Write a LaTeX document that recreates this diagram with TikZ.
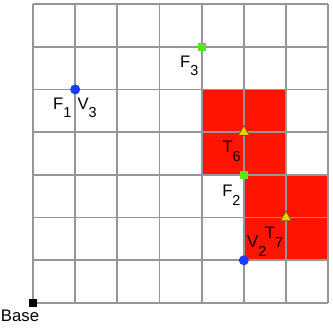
\documentclass[tikz,border=0pt]{standalone}
\usepackage{fontspec}
\setmainfont{Liberation Sans}
\usepackage{tikz}
\usetikzlibrary{positioning, shapes.geometric}
\definecolor{cellred}{RGB}{255,20,0}
\definecolor{gridgray}{RGB}{150,150,150}
\definecolor{ptblue}{RGB}{30,60,255}
\definecolor{ptgreen}{RGB}{90,230,20}
\definecolor{ptyellow}{RGB}{255,200,0}
\definecolor{ptbrown}{RGB}{110,80,0}
\newcommand{\ptname}[2]{#1\raisebox{-4.9pt}{\fontsize{8.2}{9}\selectfont #2}}

\begin{document}
\begin{tikzpicture}[
  x=0.843cm, y=0.854cm,
  gridline/.style={draw=gridgray, line width=1pt},
  vpt/.style={circle, fill=ptblue, inner sep=0, minimum size=0.2cm},
  fpt/.style={rectangle, fill=ptgreen, inner sep=0, minimum size=0.16cm},
  tpt/.style={regular polygon, regular polygon sides=3, fill=ptyellow,
              draw=ptbrown, line width=0.4pt, inner sep=0, minimum size=0.26cm},
  bpt/.style={rectangle, fill=black, inner sep=0, minimum size=0.16cm},
  lbl/.style={inner sep=0, font=\fontsize{9.5}{11}\selectfont}
]
  \useasboundingbox (-0.783,-0.749) rectangle (7.095,7.094);

  \fill[cellred] (4,3) rectangle (6,5);
  \fill[cellred] (5,1) rectangle (7,3);
  \foreach \i in {0,...,7} {
    \draw[gridline] (\i,0) -- (\i,7);
    \draw[gridline] (0,\i) -- (7,\i);
  }

  \node[bpt] (base) at (0,0) {};
  \node[vpt] (v3) at (1,5) {};
  \node[fpt] (f3) at (4,6) {};
  \node[tpt] (t6) at (5,4) {};
  \node[fpt] (f2) at (5,3) {};
  \node[tpt] (t7) at (6,2) {};
  \node[vpt] (v2) at (5,1) {};

  \node[lbl, below=0.14cm of base.center, xshift=-0.26cm] (baselbl) {Base};
  \node[lbl, below left=0.16cm and 0.07cm of v3.center] (f1lbl) {\ptname{F}{1}};
  \node[lbl, below right=0.16cm and 0.04cm of v3.center] (v3lbl) {\ptname{V}{3}};
  \node[lbl, below left=0.17cm and 0.06cm of f3.center] (f3lbl) {\ptname{F}{3}};
  \node[lbl, below left=0.18cm and 0.055cm of t6.center] (t6lbl) {\ptname{T}{6}};
  \node[lbl, below left=0.2cm and 0.06cm of f2.center] (f2lbl) {\ptname{F}{2}};
  \node[lbl, below left=0.18cm and 0.05cm of t7.center] (t7lbl) {\ptname{T}{7}};
  \node[lbl, above right=0.07cm and 0.06cm of v2.center] (v2lbl) {\ptname{V}{2}};
\end{tikzpicture}
\end{document}
